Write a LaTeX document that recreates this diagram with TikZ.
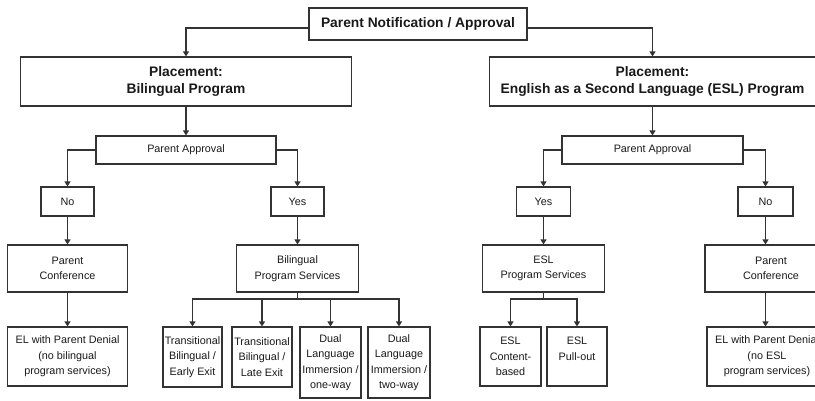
\documentclass[tikz,border=0pt]{standalone}
\usepackage{fontspec}
\setmainfont{Liberation Sans}
\usetikzlibrary{arrows.meta}

\begin{document}
\begin{tikzpicture}[x=1pt, y=-1pt,
		box/.style={draw=black!80, line width=1.1pt, align=center, inner sep=0pt, text=black!90, font=\fontsize{10.8}{15.5}\selectfont},
		bigbox/.style={box, font=\fontsize{13.8}{17}\selectfont\bfseries},
		arr/.style={draw=black!80, line width=1.1pt, -{Triangle[width=6pt,length=5pt]}},
	]
		\useasboundingbox (0,0) rectangle (815,400);
		\clip (0,0) rectangle (815,400);
	
		% top and placements
		\node[bigbox, minimum width=218pt, minimum height=32pt] (notify) at (418,24) {Parent Notification / Approval};
		\node[bigbox, minimum width=331pt, minimum height=49pt] (placeL) at (186,81.5) {Placement:\\Bilingual Program};
		\node[bigbox, minimum width=326pt, minimum height=49pt] (placeR) at (652.5,81.5) {Placement:\\English as a Second Language (ESL) Program};
		
		% parent approval
		\node[box, minimum width=180pt, minimum height=28pt] (apprL) at (186,150) {Parent Approval};
		\node[box, minimum width=181pt, minimum height=28pt] (apprR) at (652.5,150) {Parent Approval};
		\node[box, minimum width=53pt, minimum height=29pt] (noL) at (67.5,201.5) {No};
		\node[box, minimum width=53pt, minimum height=29pt] (yesL) at (297.5,201.5) {Yes};
		\node[box, minimum width=54pt, minimum height=29pt] (yesR) at (543.5,201.5) {Yes};
		\node[box, minimum width=55pt, minimum height=29pt] (noR) at (765.5,201.5) {No};
		
		% services and conferences
		\node[box, minimum width=120pt, minimum height=47pt] (confL) at (67.5,268.5) {Parent\\Conference};
		\node[box, minimum width=122pt, minimum height=47pt] (bilSvc) at (297.5,268.5) {Bilingual\\Program Services};
		\node[box, minimum width=122pt, minimum height=47pt] (eslSvc) at (543.5,268.5) {ESL\\Program Services};
		\node[box, minimum width=132pt, minimum height=47pt] (confR) at (771,268.5) {Parent\\Conference};
		
		% bottom row
		\node[box, minimum width=120pt, minimum height=59pt] (denyL) at (67.5,356.5) {EL with Parent Denial\\(no bilingual\\program services)};
		\node[box, minimum width=59pt, minimum height=60pt] (trEarly) at (192.5,357) {Transitional\\Bilingual /\\Early Exit};
		\node[box, minimum width=60pt, minimum height=60pt] (trLate) at (262,357) {Transitional\\Bilingual /\\Late Exit};
		\node[box, minimum width=61pt, minimum height=71pt] (dualOne) at (330.5,362.5) {Dual\\Language\\Immersion /\\one-way};
		\node[box, minimum width=62pt, minimum height=71pt] (dualTwo) at (399,362.5) {Dual\\Language\\Immersion /\\two-way};
		\node[box, minimum width=61pt, minimum height=59pt] (eslContent) at (510.5,356.5) {ESL\\Content-\\based};
		\node[box, minimum width=60pt, minimum height=59pt] (eslPull) at (577,356.5) {ESL\\Pull-out\\\phantom{b}};
		\node[box, minimum width=120pt, minimum height=59pt] (denyR) at (767,356.5) {EL with Parent Denial\\(no ESL\\program services)};
		
		\coordinate (bilSplit) at (297.5,299);
		\coordinate (eslSplit) at (543.5,299);
		
		% connectors
		\draw[arr] ([yshift=-4pt]notify.west) -| (placeL.north);
		\draw[arr] ([yshift=-4pt]notify.east) -| (placeR.north);
		\draw[arr] (placeL) -- (apprL);
		\draw[arr] (placeR) -- (apprR);
		\draw[arr] (apprL.west) -| (noL.north);
		\draw[arr] (apprL.east) -| (yesL.north);
		\draw[arr] (apprR.west) -| (yesR.north);
		\draw[arr] (apprR.east) -| (noR.north);
		\draw[arr] (noL) -- (confL);
		\draw[arr] (yesL) -- (bilSvc);
		\draw[arr] (yesR) -- (eslSvc);
		\draw[arr] (noR.south) -- (noR.south |- confR.north);
		\draw[arr] (confL) -- (denyL);
		\draw[arr] (confR.south -| noR.south) -- (noR.south |- denyR.north);
		\foreach \n in {trEarly, trLate, dualOne, dualTwo}
			\draw[arr] (bilSvc.south) |- (bilSplit -| \n.north) -- (\n.north);
		\foreach \n in {eslContent, eslPull}
			\draw[arr] (eslSvc.south) |- (eslSplit -| \n.north) -- (\n.north);
	\end{tikzpicture}
\end{document}
